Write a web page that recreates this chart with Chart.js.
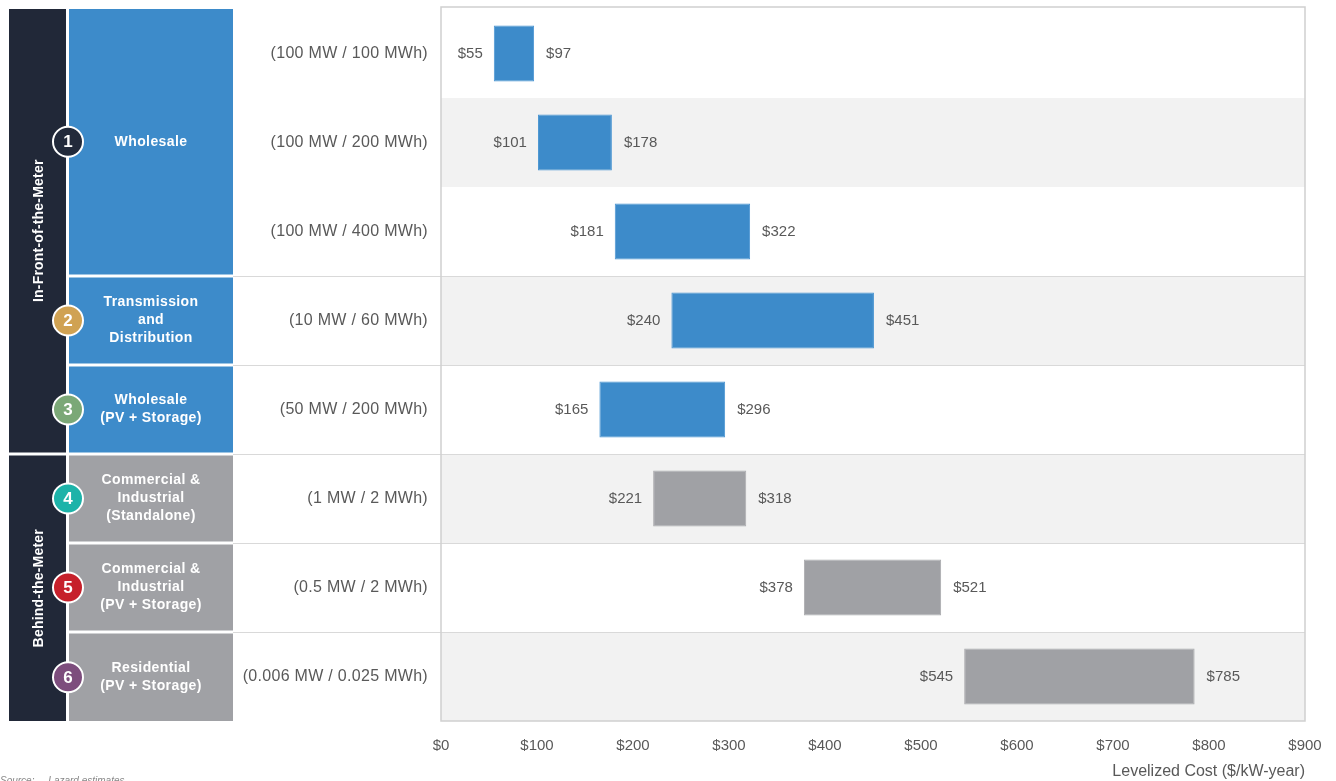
<!DOCTYPE html>
<html>
<head>
<meta charset="utf-8">
<script src="https://cdn.jsdelivr.net/npm/chart.js@4.4.0/dist/chart.umd.min.js"></script>
<style>
  html, body { margin: 0; padding: 0; background: #fff; }
  #wrap { width: 1336px; height: 781px; position: relative; }
</style>
</head>
<body>
<div id="wrap"><canvas id="myChart"></canvas></div>
<script>
// Data
const specs = ['(100 MW / 100 MWh)', '(100 MW / 200 MWh)', '(100 MW / 400 MWh)', '(10 MW / 60 MWh)',
               '(50 MW / 200 MWh)', '(1 MW / 2 MWh)', '(0.5 MW / 2 MWh)', '(0.006 MW / 0.025 MWh)'];
const lowCost = [55, 101, 181, 240, 165, 221, 378, 545];
const highCost = [97, 178, 322, 451, 296, 318, 521, 785];
const inFront = [true, true, true, true, true, false, false, false];

// Use case blocks on the left (first row, last row)
const useCases = [['Wholesale'], ['Transmission', 'and', 'Distribution'], ['Wholesale', '(PV + Storage)'],
                  ['Commercial &', 'Industrial', '(Standalone)'], ['Commercial &', 'Industrial', '(PV + Storage)'],
                  ['Residential', '(PV + Storage)']];
const useCaseRows = [[0, 2], [3, 3], [4, 4], [5, 5], [6, 6], [7, 7]];
const circleColors = ['#222a3b', '#d0a253', '#7ba877', '#1db3a9', '#c6202b', '#7d4d7d'];
const groups = ['In-Front-of-the-Meter', 'Behind-the-Meter'];
const groupRows = [[0, 4], [5, 7]];

const BLUE = '#3d8bca';
const GRAY = '#a0a1a5';
const NAVY = '#212838';
const FONT = '"Liberation Sans", Arial, sans-serif';

function rowEdges(chart, i) {
  const y = chart.scales.y;
  const half = (y.getPixelForValue(1) - y.getPixelForValue(0)) / 2;
  const c = y.getPixelForValue(i);
  return [c - half, c + half];
}

const panelPlugin = {
  id: 'panel',
  beforeDraw(chart) {
    const ctx = chart.ctx;
    const a = chart.chartArea;
    ctx.save();
    // row shading
    for (let i = 0; i < specs.length; i++) {
      const [t, b] = rowEdges(chart, i);
      if (i % 2 === 1) {
        ctx.fillStyle = '#f2f2f2';
        ctx.fillRect(a.left, t, a.right - a.left, b - t);
      }
    }
    // separators between use cases
    ctx.strokeStyle = '#d9d9d9';
    ctx.lineWidth = 1;
    for (let k = 1; k < useCaseRows.length; k++) {
      const [t] = rowEdges(chart, useCaseRows[k][0]);
      ctx.beginPath();
      ctx.moveTo(233, Math.round(t) + 0.5);
      ctx.lineTo(a.right, Math.round(t) + 0.5);
      ctx.stroke();
    }
    // dark group column
    groups.forEach((g, k) => {
      const t = rowEdges(chart, groupRows[k][0])[0] + (k === 0 ? 0 : 1.5);
      const b = rowEdges(chart, groupRows[k][1])[1] - (k === 0 ? 1.5 : 0);
      ctx.fillStyle = NAVY;
      ctx.fillRect(9, t, 57, b - t);
      ctx.save();
      ctx.translate(39, (t + b) / 2);
      ctx.rotate(-Math.PI / 2);
      ctx.fillStyle = '#fff';
      ctx.font = 'bold 14px ' + FONT;
      ctx.letterSpacing = '0.2px';
      ctx.textAlign = 'center';
      ctx.textBaseline = 'middle';
      ctx.fillText(g, 0, 0);
      ctx.restore();
    });
    // use case blocks
    useCases.forEach((lines, k) => {
      const r0 = useCaseRows[k][0], r1 = useCaseRows[k][1];
      const t = rowEdges(chart, r0)[0] + (r0 === 0 ? 0 : 1.5);
      const b = rowEdges(chart, r1)[1] - (r1 === specs.length - 1 ? 0 : 1.5);
      ctx.fillStyle = inFront[r0] ? BLUE : GRAY;
      ctx.fillRect(69, t, 164, b - t);
      const cy = (t + b) / 2;
      ctx.fillStyle = '#fff';
      ctx.font = 'bold 14px ' + FONT;
      ctx.letterSpacing = '0.4px';
      ctx.textAlign = 'center';
      ctx.textBaseline = 'middle';
      lines.forEach((ln, j) => {
        ctx.fillText(ln, 151, cy + (j - (lines.length - 1) / 2) * 18);
      });
      ctx.letterSpacing = '0px';
      // numbered circle
      ctx.beginPath();
      ctx.arc(68, cy, 15, 0, Math.PI * 2);
      ctx.fillStyle = circleColors[k];
      ctx.fill();
      ctx.lineWidth = 2;
      ctx.strokeStyle = '#fff';
      ctx.stroke();
      ctx.fillStyle = '#fff';
      ctx.font = 'bold 17px ' + FONT;
      ctx.fillText(String(k + 1), 68, cy + 1);
    });
    // spec labels
    ctx.fillStyle = '#595959';
    ctx.font = '16px ' + FONT;
    ctx.letterSpacing = '0.3px';
    ctx.textAlign = 'right';
    ctx.textBaseline = 'middle';
    specs.forEach((s, i) => ctx.fillText(s, 428, chart.scales.y.getPixelForValue(i)));
    ctx.letterSpacing = '0px';
    ctx.restore();
  },
  afterDatasetsDraw(chart) {
    const ctx = chart.ctx;
    const a = chart.chartArea;
    const x = chart.scales.x, y = chart.scales.y;
    ctx.save();
    ctx.fillStyle = '#595959';
    ctx.font = '15px ' + FONT;
    ctx.textBaseline = 'middle';
    for (let i = 0; i < specs.length; i++) {
      const cy = y.getPixelForValue(i);
      ctx.textAlign = 'right';
      ctx.fillText('$' + lowCost[i], x.getPixelForValue(lowCost[i]) - 11, cy);
      ctx.textAlign = 'left';
      ctx.fillText('$' + highCost[i], x.getPixelForValue(highCost[i]) + 12, cy);
    }
    // plot frame
    ctx.strokeStyle = '#cfcfcf';
    ctx.lineWidth = 1.5;
    ctx.strokeRect(a.left, a.top - 2, a.right - a.left, a.bottom - a.top + 2);
    // source note (cut off at the bottom edge)
    ctx.fillStyle = '#888';
    ctx.font = 'italic 10px ' + FONT;
    ctx.textAlign = 'left';
    ctx.textBaseline = 'top';
    ctx.fillText('Source:     Lazard estimates.', 0, 776);
    ctx.restore();
  }
};

const ctx = document.getElementById('myChart').getContext('2d');
const chart = new Chart(ctx, {
  type: 'bar',
  data: {
    labels: specs,
    datasets: [{
      data: lowCost.map((v, i) => [v, highCost[i]]),
      backgroundColor: inFront.map(f => f ? BLUE : GRAY),
      borderColor: inFront.map(f => f ? '#4a95d2' : '#a9aaad'),
      borderWidth: 1,
      borderSkipped: false,
      barPercentage: 0.63,
      categoryPercentage: 1
    }]
  },
  options: {
    indexAxis: 'y',
    responsive: true,
    maintainAspectRatio: false,
    animation: false,
    layout: { padding: { left: 441, right: 31, top: 9, bottom: 0 } },
    plugins: { legend: { display: false }, tooltip: { enabled: false } },
    scales: {
      x: {
        min: 0,
        max: 900,
        grid: { display: false },
        border: { display: false },
        ticks: {
          stepSize: 100,
          color: '#595959',
          font: { family: FONT, size: 15 },
          padding: 8,
          maxRotation: 0,
          callback: v => '$' + v
        },
        title: {
          display: true,
          text: 'Levelized Cost ($/kW-year)',
          align: 'end',
          color: '#595959',
          font: { family: FONT, size: 16 },
          padding: { top: 6, bottom: 0 }
        },
        afterFit(scale) { scale.height = 60; }
      },
      y: { display: false }
    }
  },
  plugins: [panelPlugin]
});
</script>
</body>
</html>
